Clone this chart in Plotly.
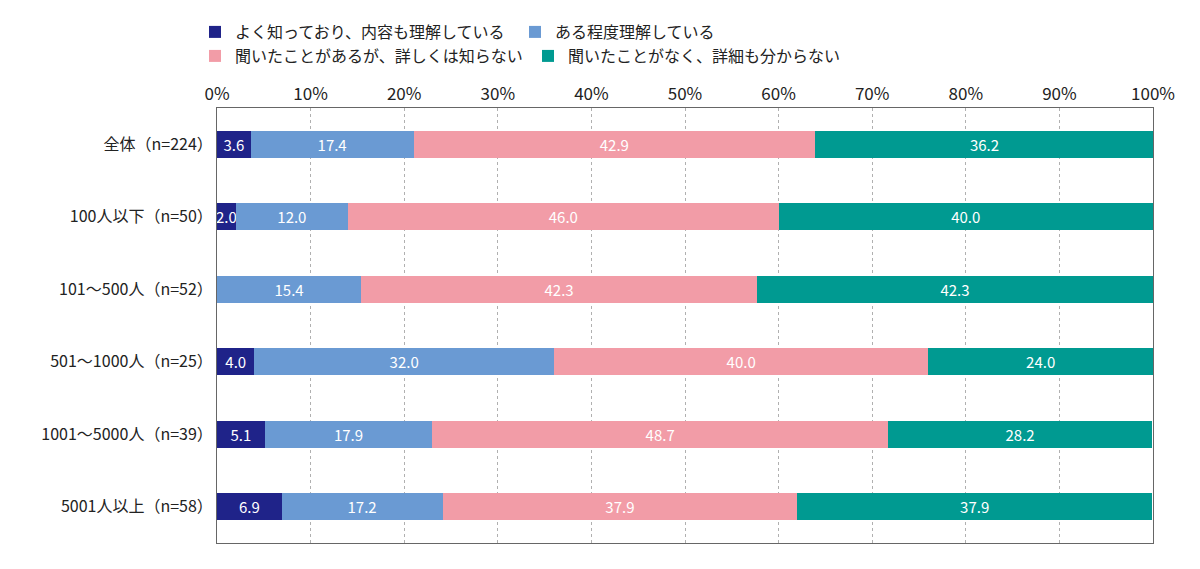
import plotly.graph_objects as go

categories = ["全体（n=224）", "100人以下（n=50）", "101～500人（n=52）",
              "501～1000人（n=25）", "1001～5000人（n=39）", "5001人以上（n=58）"]
series_names = ["よく知っており、内容も理解している", "ある程度理解している",
                "聞いたことがあるが、詳しくは知らない", "聞いたことがなく、詳細も分からない"]
s1 = [3.6, 2.0, 0.0, 4.0, 5.1, 6.9]
s2 = [17.4, 12.0, 15.4, 32.0, 17.9, 17.2]
s3 = [42.9, 46.0, 42.3, 40.0, 48.7, 37.9]
s4 = [36.2, 40.0, 42.3, 24.0, 28.2, 37.9]
colors = ["#1f2389", "#6a9ad3", "#f29ca7", "#009a91"]
legend_ids = ["legend", "legend", "legend2", "legend2"]

FONT = "Noto Sans CJK JP"
fig = go.Figure()
for name, vals, col, lg in zip(series_names, [s1, s2, s3, s4], colors, legend_ids):
    fig.add_trace(go.Bar(
        y=categories, x=vals, name=name, orientation="h",
        marker=dict(color=col, line=dict(width=0)),
        text=["" if v == 0 else f"{v:.1f}" for v in vals],
        textposition="inside", insidetextanchor="middle",
        constraintext="none", textangle=0,
        textfont=dict(color="white", size=15, family=FONT),
        width=0.37, legend=lg, hoverinfo="x+name",
    ))

fig.update_layout(
    barmode="stack",
    width=1184, height=553,
    margin=dict(l=209, r=39, t=100, b=18, autoexpand=False),
    plot_bgcolor="white", paper_bgcolor="white",
    font=dict(family=FONT, size=16, color="#222"),
    showlegend=True,
    legend=dict(orientation="h", x=-0.0235, xanchor="left", y=1.1747, yanchor="middle",
                font=dict(size=16, family=FONT), itemwidth=30, traceorder="normal",
                entrywidth=275, entrywidthmode="pixels",
                bgcolor="rgba(0,0,0,0)", itemclick=False, itemdoubleclick=False),
    legend2=dict(orientation="h", x=-0.0235, xanchor="left", y=1.1195, yanchor="middle",
                 font=dict(size=16, family=FONT), itemwidth=30, traceorder="normal",
                 entrywidth=288, entrywidthmode="pixels",
                 bgcolor="rgba(0,0,0,0)", itemclick=False, itemdoubleclick=False),
    xaxis=dict(range=[0, 100], side="top", dtick=10, ticksuffix="%",
               showgrid=True, gridcolor="#b0b0b0", griddash="dot", gridwidth=1,
               showline=True, linecolor="#666", linewidth=1, mirror=True,
               zeroline=False, ticks="", tickfont=dict(size=17, color="#222"),
               fixedrange=True, automargin=False),
    yaxis=dict(autorange="reversed", showline=True, linecolor="#666", linewidth=1,
               mirror=True, ticks="", tickfont=dict(size=16, color="#222"),
               ticklabelstandoff=0, fixedrange=True, automargin=False),
)

fig.write_html("out.html")
